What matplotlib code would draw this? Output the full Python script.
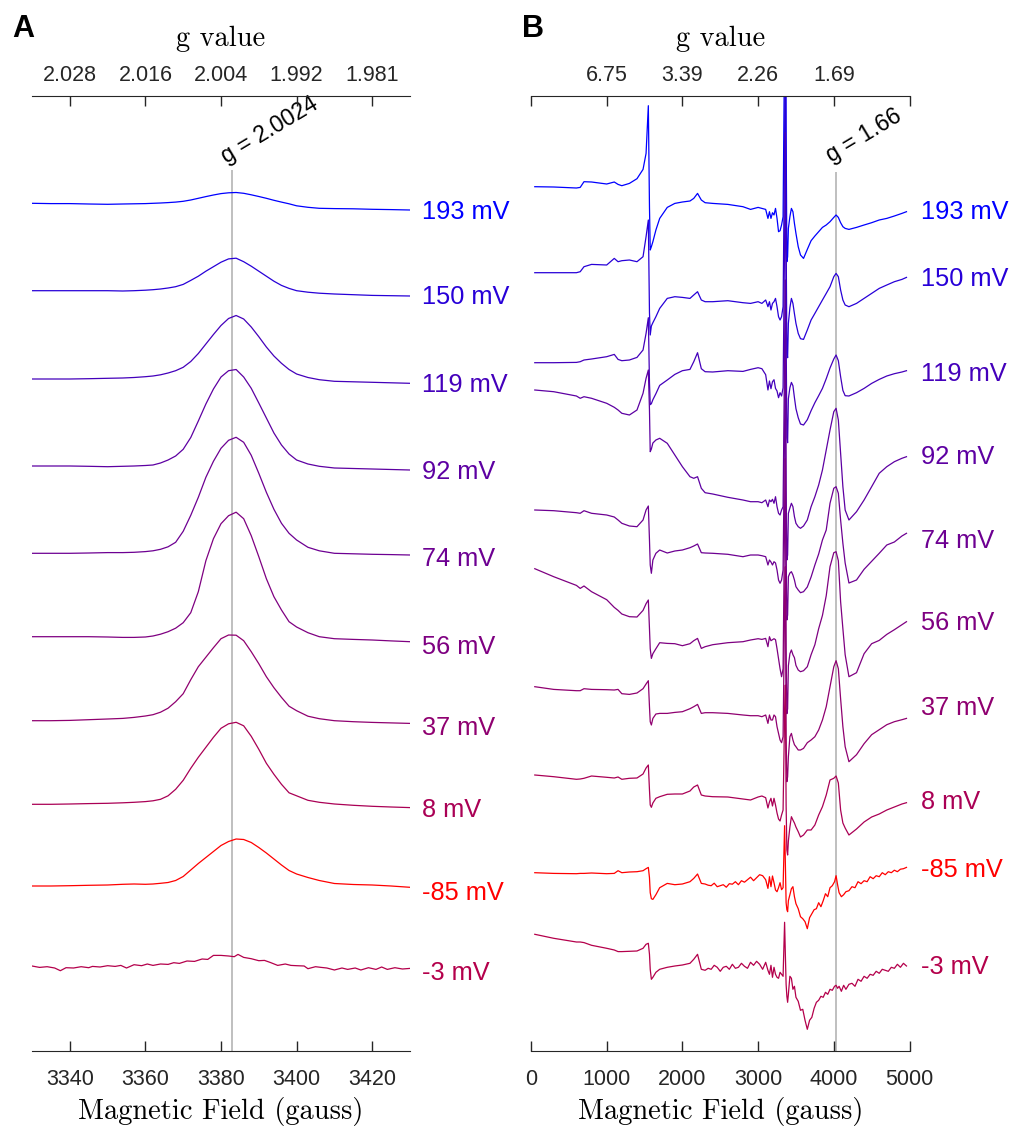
import numpy as np
import matplotlib.pyplot as plt
from matplotlib.transforms import blended_transform_factory

plt.rcParams['font.family'] = ['Liberation Sans', 'DejaVu Sans']

# redox potentials (mV), top to bottom
potentials = [193, 150, 119, 92, 74, 56, 37, 8, -85, -3]

# ---- panel A: narrow scan around g = 2 (field in gauss, signal in px-ish units)
field_a = [3330, 3335, 3340, 3345, 3350, 3354, 3357, 3360, 3362, 3364,
           3366, 3368, 3370, 3372, 3374, 3376, 3378, 3380, 3382, 3384,
           3386, 3388, 3390, 3392, 3394, 3396, 3398, 3400, 3403, 3406,
           3410, 3415, 3420, 3425, 3430]
a_193 = [0, -0.3, -0.3, -0.7, -1, -0.7, -0.5, -0.3, 0, 0.3,
         0.7, 1.2, 2, 3.3, 5, 6.7, 8.3, 9.7, 10.5, 10.8,
         10, 8.5, 6.8, 5, 3, 1.2, -0.5, -2.5, -4, -5,
         -5.3, -5.5, -6, -6.3, -6.7]
a_150 = [0, 0, 0, 0, 0, -0.3, 0, 0.5, 1, 1.7,
         2.7, 4, 6.3, 10.3, 14.5, 19.5, 24, 28.5, 31.8, 32.5,
         29, 24.5, 19.5, 14.5, 9.5, 5.3, 2.3, 0, -1.5, -2.5,
         -3.3, -4, -4.7, -5, -5.3]
a_119 = [0, 0, 0, 0.3, 0.7, 1, 1.5, 2.3, 3, 4.2,
         6, 8.3, 11.7, 17.5, 25.5, 35, 44.5, 53.5, 60.5, 63.5,
         60, 52, 42.3, 32, 23, 15.7, 9.5, 5, 1.5, -0.7,
         -2.3, -2.8, -3.3, -3.8, -4.3]
a_92 = [0, 0, 0, -0.3, -0.7, -0.3, 0, 0.5, 1, 3,
        6, 10, 16.7, 28.5, 45, 62, 77, 89, 95.3, 96.5,
        89, 77.7, 63, 48, 33, 21, 12, 6, 2, -0.3,
        -2, -2.5, -3, -3.5, -4]
a_74 = [0, 0, 0, 0.3, 0.7, 0.7, 1, 1.7, 2.5, 4,
        6.5, 11, 22, 38, 56, 76, 92, 105, 113, 116,
        111, 98, 80, 61, 44, 30, 20, 13.3, 6, 2.5,
        0, -0.5, -1, -1.3, -1.7]
a_56 = [0, 0, 0, 0, -0.3, -0.7, -0.7, -0.3, 0.7, 2.5,
        5, 8.5, 14, 24, 45, 76, 98, 113, 121, 124.5,
        118, 101, 80, 58, 40, 26.7, 15, 9.7, 4, 0,
        -2, -2.7, -3.3, -4.2, -5]
a_37 = [0, 0, 0.3, 1, 1.7, 2.3, 3.3, 4.7, 6, 8.5,
        12.5, 19, 27, 41, 54, 63.5, 73, 82, 85.7, 85.5,
        80, 69, 57, 44, 33, 23.3, 14.5, 10, 4.5, 2,
        0, -1, -1.7, -2.2, -2.7]
a_8 = [0, 0, 0.3, 0.7, 1, 1.5, 2, 2.7, 3.5, 5,
       8.5, 15, 24, 36, 47, 57, 67, 76, 80.5, 82,
       78.5, 68, 55, 41, 30, 20, 11.5, 8.5, 4, 2,
       0.3, -1, -2, -2.7, -3.3]
a_m85 = [0, 0, 0.3, 0.7, 1, 1.7, 2, 1.7, 2, 2.7,
         3.5, 5.5, 9.5, 16, 22.5, 28.5, 34.5, 40.5, 44.5, 47,
         46.5, 43.5, 38.5, 33, 27, 21, 15.5, 12, 8.5, 5.5,
         2.5, 1.5, 1, 0, -1.3]

# the -3 mV trace is noisy, so it has its own finer field list
field_a_m3 = [3330, 3332, 3334, 3336, 3337.5, 3339, 3341, 3343, 3345, 3346,
              3348, 3350, 3352, 3353.5, 3355, 3357, 3359, 3360.5, 3362, 3364,
              3366, 3367.5, 3369, 3371, 3373, 3375, 3376.5, 3378, 3380, 3382,
              3383.5, 3384.5, 3386, 3388, 3390, 3391.5, 3393, 3395, 3397, 3398.5,
              3400, 3402, 3403, 3405, 3406.5, 3408, 3410, 3412, 3413.5, 3415.5,
              3417, 3419, 3421, 3422.5, 3424, 3426, 3428, 3430]
a_m3 = [0.7, -0.7, 0, -1.3, -4, -1, -1.3, 0, -1, 0.3,
        -0.3, 1, 0.3, 1.3, -1.3, 2, 1, 2.7, 1.3, 2.7,
        2.3, 4, 3.3, 5.7, 5.3, 7.7, 7.3, 11.3, 11.3, 10.7,
        10, 12.3, 9.3, 8, 6, 6.3, 4.3, 1.3, 2.7, 1.3,
        1, 0.7, -2, 0, -0.7, -1.3, -3.3, -1.3, -2.7, -1.3,
        -3.3, -1, -2.7, -0.3, -2.7, -1, -2.3, -1.7]

# ---- panel B: wide scan
field_b = [50, 300, 600, 650, 700, 800, 1000, 1100, 1150, 1200,
           1300, 1400, 1480, 1520, 1550, 1565, 1575, 1590, 1610, 1650,
           1700, 1800, 1900, 2000, 2100, 2150, 2200, 2250, 2300, 2400,
           2600, 2800, 2900, 3000, 3050, 3100, 3130, 3150, 3170, 3190,
           3210, 3230, 3250, 3270, 3290, 3310, 3330, 3350, 3360, 3370,
           3380, 3390, 3400, 3420, 3440, 3460, 3480, 3500, 3530, 3560,
           3600, 3650, 3700, 3750, 3800, 3850, 3900, 3950, 4000, 4030,
           4060, 4090, 4120, 4150, 4200, 4300, 4400, 4500, 4600, 4700,
           4800, 4900, 4960]
b_193 = [0, -0.3, -1.3, -0.7, 5, 4.7, 2.7, 4.7, 2.3, 1,
         3.3, 8, 17.3, 33.3, 81, -20, -63.3, -60, -55, -43.3,
         -31.7, -20.7, -16.7, -15.3, -14.3, -11.7, -6.7, -13.3, -16, -16.7,
         -17.7, -20, -22.7, -20.7, -21.7, -22.7, -31.7, -25, -31.7, -26,
         -28.3, -21.7, -31.7, -45, -44, -38.3, -30, 150, 330, 60,
         -75, -70, -41.7, -30, -21.7, -25, -36.7, -46.7, -60, -68.3,
         -71.7, -62.7, -54, -49.3, -45, -40.7, -38.3, -35, -30.7, -28.3,
         -30.7, -36, -40, -41.7, -42.7, -40.7, -38.3, -36, -33.3, -31.7,
         -29.3, -26.7, -25]
b_150 = [0, 0, 0, 1, 6, 8.3, 7.7, 14.3, 11, 12,
         12.7, 11, 16, 36, 52.7, -40, -62.3, -53.3, -50, -44,
         -35.7, -25.7, -24, -24.7, -25.7, -22.3, -19, -27.3, -29, -29,
         -28, -30, -30.7, -29, -30.7, -27.3, -34, -29, -37.3, -30.7,
         -29, -25.7, -34, -44, -47.3, -44, -34, 130, 260, 40,
         -80, -85, -50.7, -35, -25.7, -30.7, -41, -50.7, -60.7, -66,
         -66.7, -57.3, -47.3, -40.7, -34, -27.3, -20.7, -14, -4, -0.7,
         -4, -17.3, -27.3, -32.3, -34, -30.7, -25.7, -20.7, -15.7, -12.3,
         -9, -6.7, -4.7]
b_119 = [0, 0, 0.3, 1, 2.7, 3.7, 6, 8.3, 3.3, 2,
         2.7, 5.3, 12.7, 29.3, 45, -20, -42, -41, -37, -31,
         -22.7, -17.3, -11.7, -8, -6.7, 1, 10, -6, -9, -9.3,
         -8, -8.7, -6.7, -5, -6, -12, -27.3, -18.3, -26, -19,
         -17, -25.7, -28.3, -35, -30, -33.3, -25, 120, 230, 30,
         -75, -80, -36, -25, -19.7, -23, -35, -46, -55, -61.3,
         -62.3, -57, -48, -40, -33, -25.7, -16, -5.3, 3.7, 7.7,
         2, -14, -27.7, -33, -33.3, -30, -25.7, -20.7, -16.7, -13.3,
         -11, -9.3, -8]
b_92 = [0, -1.7, -6, -8.3, -6.7, -8.3, -13.3, -17.3, -20, -23.3,
        -25, -20, -3.3, 11.7, 20, -20, -61.7, -59, -53, -50,
        -48.3, -53.3, -65, -76.7, -86.7, -88.3, -86.7, -98.3, -102.7, -104,
        -107.3, -110, -111.7, -111.7, -112.7, -110, -116.7, -110, -111.7, -109.3,
        -113.3, -106.7, -116.7, -123.3, -125, -120, -116.7, 40, 110, -100,
        -170, -165, -123.3, -118, -113.3, -116.7, -126.7, -133.3, -136.7, -138.3,
        -136, -130, -116.7, -106.7, -95, -80, -60, -40, -21.7, -18.3,
        -30, -63.3, -96.7, -120, -130, -121.7, -110, -96.7, -83.3, -76.7,
        -71.7, -68.3, -66.7]
b_74 = [0, -0.7, -2.7, -3.3, -0.7, -3.3, -5, -7, -10, -13.3,
        -16, -16.7, -10, 0, 4, -30, -55, -63.3, -50, -43.3,
        -40, -43, -41, -40, -37.7, -36, -34, -42.7, -43, -43.3,
        -44.3, -46.7, -45, -45, -45.7, -46.7, -55, -50, -52, -55,
        -51.7, -53, -60, -70, -73.3, -70, -60, 80, 150, -40,
        -110, -105, -66.7, -63, -61.7, -65, -70, -76.7, -80, -82.7,
        -81.7, -77, -67, -55, -44, -30, -20, 6.7, 21.7, 23.3,
        16.7, -10, -33.3, -53, -73, -70, -59.3, -51.3, -43.3, -35,
        -32, -26, -23.3]
b_56 = [0, -8, -16.7, -19.7, -17.3, -23, -31, -38.7, -41.7, -45.3,
        -48, -48.3, -41.7, -35, -31.3, -60, -80, -89.7, -85, -80,
        -74, -74.7, -75, -77, -75, -72, -69.7, -79.7, -78, -76,
        -74, -73, -71.3, -70, -70.7, -69.7, -78, -68, -72, -71,
        -70, -71, -80, -90, -100, -108, -100, 50, 110, -80,
        -145, -140, -97, -85, -81.3, -86, -89, -96.7, -101.3, -103,
        -102, -98, -86, -76, -60, -46.7, -27, 2, 16, 17,
        8, -33, -60, -86, -108, -104, -85, -75, -71.7, -65.7,
        -61, -56, -53]
b_37 = [0, -2.7, -4, -4, -2, -2.7, -3, -3.3, -2.7, -7,
        -7.7, -6.3, -2, 2.7, 6, -20, -35, -38.3, -31.7, -27.3,
        -26.7, -26.7, -25.7, -25, -22, -20, -17.7, -26.7, -26, -26,
        -26.7, -28.3, -29, -29, -30, -28.3, -36.7, -28.3, -33.3, -33.3,
        -28.3, -30, -40, -46.7, -53.3, -56, -50, 80, 120, -50,
        -95, -90, -70, -50, -46.7, -53.3, -58, -60, -63.3, -63.3,
        -61.7, -56, -53.3, -50, -43.3, -33.3, -20, 0, 20, 26,
        18, -12, -40, -60, -75, -68, -57, -48, -43, -38,
        -35, -33, -31.7]
b_8 = [0, -1.7, -4.3, -4, -3.3, -1, -2.3, -3, -2, -4.3,
       -3.3, -3, 1, 7, 10, -15, -30, -32.3, -28, -23.3,
       -21.7, -19.3, -19, -19, -16, -12, -10, -20, -21, -21.7,
       -22, -24, -25, -22, -21, -22.7, -33, -27, -23.3, -31,
       -23.3, -30, -38, -44, -46, -40, -35, 60, 90, -30,
       -75, -80, -66, -52, -41.7, -45, -48, -52, -56.7, -62,
       -60, -55, -55, -50, -40, -31.7, -20, -5, -3.3, -1,
       -8, -35, -48, -53, -60, -54, -47, -42, -39, -35,
       -32, -29, -27.7]

# the two noisiest wide scans get a finer field list
field_b_fine = [50, 300, 600, 650, 700, 800, 1000, 1100, 1150, 1200,
                1300, 1400, 1480, 1520, 1550, 1565, 1575, 1590, 1610, 1650,
                1700, 1800, 1900, 2000, 2100, 2150, 2200, 2250, 2300, 2340,
                2380, 2420, 2460, 2500, 2540, 2580, 2620, 2660, 2700, 2740,
                2780, 2820, 2860, 2900, 2940, 2980, 3020, 3060, 3100, 3130,
                3150, 3170, 3190, 3210, 3230, 3250, 3270, 3290, 3310, 3330,
                3350, 3360, 3370, 3380, 3390, 3400, 3420, 3440, 3460, 3480,
                3500, 3530, 3560, 3590, 3620, 3650, 3680, 3710, 3740, 3770,
                3800, 3830, 3860, 3890, 3920, 3950, 3980, 4010, 4030, 4050,
                4070, 4100, 4130, 4160, 4200, 4240, 4280, 4320, 4360, 4400,
                4440, 4480, 4520, 4560, 4600, 4640, 4680, 4720, 4760, 4800,
                4840, 4880, 4920, 4960]
b_m85 = [0, -0.7, -1, -0.7, -0.7, -0.3, -1, -0.7, 2, 0,
         0.7, 1, 2, 4, 5.3, -5, -20, -26, -26.7, -22,
         -15, -10.7, -12, -11.3, -9, -5.7, -1.3, -10.7, -11.3, -12.5,
         -13, -10.5, -14, -13, -12, -14.5, -11, -11.5, -9, -12,
         -8, -9.5, -7, -4.5, -8, -5, -2, -3, -7, -15.7,
         -4, -14, -3.3, -10, -17.3, -19, -15, -10, -17, -15,
         47, 10, -30, -37, -39, -28, -22, -16, -14, -24,
         -31, -36, -44, -46, -49, -56, -45, -41, -37, -36,
         -30, -34, -28, -21, -24, -15, -13, -9, -3, -12,
         -20, -24, -22, -19, -18, -14, -15, -9, -11, -8,
         -9, -4, -6, -3, -4, 0, -2, 1, 0, 2.5,
         1, 3.5, 4, 5.3]
b_m3 = [0, -4, -7.7, -7.7, -8.3, -11, -14, -15.7, -17.3, -17.3,
        -17, -16.7, -14, -10, -9, -20, -35, -45, -43, -38,
        -35, -33, -31.7, -30.7, -29, -25, -20, -35, -36, -34,
        -35, -31, -33, -37, -33, -32, -35, -30, -34, -33,
        -29, -32, -34, -28, -31, -27, -30, -35, -28, -36,
        -40, -31, -43, -33, -40, -43, -44, -38, -40, -42,
        12, -20, -50, -62, -68, -60, -42, -44, -55, -52,
        -63, -67, -76, -75, -86, -95, -86, -83, -74, -68,
        -66, -62, -63, -58, -60, -55, -56, -52, -51, -54,
        -52, -57, -51, -55, -50, -49, -52, -45, -47, -42,
        -44, -40, -41, -37, -39, -35, -36, -37, -33, -34,
        -30, -33, -29, -31.7]

top_ticks_a = [3340, 3360, 3380, 3400, 3420]
top_labels_a = ['2.028', '2.016', '2.004', '1.992', '1.981']
top_ticks_b = [0, 1000, 2000, 3000, 4000, 5000]
top_labels_b = ['', '6.75', '3.39', '2.26', '1.69', '']
g_line_a, g_text_a = 3383, 'g = 2.0024'
g_line_b, g_text_b = 4035, 'g = 1.66'

traces_a = [(field_a, a_193), (field_a, a_150), (field_a, a_119), (field_a, a_92),
            (field_a, a_74), (field_a, a_56), (field_a, a_37), (field_a, a_8),
            (field_a, a_m85), (field_a_m3, a_m3)]
traces_b = [(field_b, b_193), (field_b, b_150), (field_b, b_119), (field_b, b_92),
            (field_b, b_74), (field_b, b_56), (field_b, b_37), (field_b, b_8),
            (field_b_fine, b_m85), (field_b_fine, b_m3)]

# layout: pixel rows of each trace start, and of each mV label
offs_a = [203.3, 290.7, 379, 466, 553.3, 636.7, 720.7, 804.3, 886, 966.7]
offs_b = [186.7, 272.7, 362.7, 390, 510, 568.7, 686.7, 775, 872.7, 934.3]
lab_a = [211.7, 297.3, 385, 471.7, 559.3, 646.7, 728.3, 810, 892.7, 973.3]
lab_b = [212, 279, 374, 457, 541, 623, 708, 802, 870, 967]


def trace_color(p):
    t = (193 - p) / 278.0
    return (t, 0, 1 - t)


W, H = 1011, 1126
fig = plt.figure(figsize=(W / 100, H / 100), dpi=100)
bot, top = 1051, 96
axA = fig.add_axes([32 / W, 1 - bot / H, 378 / W, (bot - top) / H])
axB = fig.add_axes([531 / W, 1 - bot / H, 378.5 / W, (bot - top) / H])

ink = '#262626'
cm = 'cmr10'


def style(ax, xlim, ticks, tlabels):
    ax.set_xlim(*xlim)
    ax.set_ylim(-bot, -top)
    ax.set_yticks([])
    for s in ['left', 'right', 'top']:
        ax.spines[s].set_visible(False)
    ax.spines['bottom'].set_color(ink)
    ax.tick_params(axis='x', direction='in', length=7, width=1, color=ink,
                   labelsize=15.5, labelcolor=ink, pad=13)
    ax.set_xlabel('Magnetic Field (gauss)', fontfamily=cm, fontsize=20.5, labelpad=5)
    axt = ax.twiny()
    axt.set_xlim(*xlim)
    axt.set_xticks(ticks)
    axt.set_xticklabels(tlabels)
    for s in ['left', 'right', 'bottom']:
        axt.spines[s].set_visible(False)
    axt.spines['top'].set_color(ink)
    axt.tick_params(axis='x', direction='in', length=7, width=1, color=ink,
                    labelsize=15.5, labelcolor=ink, pad=7)
    axt.set_xlabel('g value', fontfamily=cm, fontsize=20.5, labelpad=14)
    return axt


style(axA, (3330, 3430), top_ticks_a, top_labels_a)
axA.set_xticks([3340, 3360, 3380, 3400, 3420])
style(axB, (0, 5000), top_ticks_b, top_labels_b)
axB.set_xticks([0, 1000, 2000, 3000, 4000, 5000])

# g markers
axA.vlines(g_line_a, -bot, -170, color='#b4b4b4', lw=1.2, zorder=1)
axB.vlines(g_line_b, -bot, -171.7, color='#b4b4b4', lw=1.2, zorder=1)
axA.annotate(g_text_a, xy=(g_line_a, -170), xytext=(-2.5, 1.5), textcoords='offset points',
             rotation=31, rotation_mode='anchor', ha='left', va='bottom', fontsize=16.5)
axB.annotate(g_text_b, xy=(g_line_b, -171.7), xytext=(-1.5, 3.5), textcoords='offset points',
             rotation=31, rotation_mode='anchor', ha='left', va='bottom', fontsize=16.5)

trA = blended_transform_factory(axA.transAxes, axA.transData)
trB = blended_transform_factory(axB.transAxes, axB.transData)

for ax, tr, traces, offs, labs in [(axA, trA, traces_a, offs_a, lab_a),
                                   (axB, trB, traces_b, offs_b, lab_b)]:
    for p, (fx, vals), off, ly in zip(potentials, traces, offs, labs):
        c = trace_color(p)
        ax.plot(fx, np.array(vals) - off, color=c, lw=0.9, zorder=2)
        ax.annotate(f'{p} mV', xy=(1, -ly), xycoords=tr, xytext=(8.5, 0),
                    textcoords='offset points', ha='left', va='center', fontsize=18.3,
                    color=c, annotation_clip=False)

fig.text(12 / W, 1 - 14 / H, 'A', fontsize=22, fontweight='bold', va='top', ha='left')
fig.text(522 / W, 1 - 14 / H, 'B', fontsize=22, fontweight='bold', va='top', ha='left')

fig.savefig('out.png', dpi=100)
